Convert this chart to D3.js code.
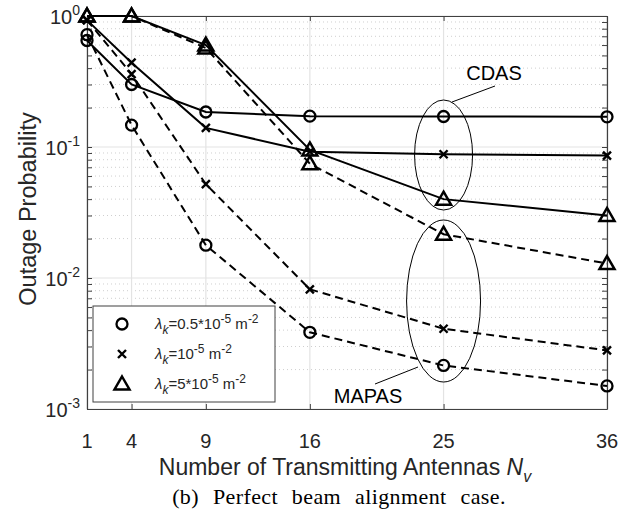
<!DOCTYPE html>
<html>
<head>
<meta charset="utf-8">
<script src="https://cdn.jsdelivr.net/npm/d3@7"></script>
<style>
body { margin: 0; background: #fff; }
text { font-family: "Liberation Sans", Arial, sans-serif; fill: #262626; }
</style>
</head>
<body>
<script>
// number of transmitting antennas N_v
var antennas = [1, 4, 9, 16, 25, 36];

// CDAS (solid lines)
var cdasLow  = [0.65, 0.30, 0.185, 0.172, 0.171, 0.170];
var cdasMid  = [0.93, 0.44, 0.14, 0.092, 0.088, 0.086];
var cdasHigh = [1.0, 1.0, 0.60, 0.095, 0.040, 0.030];

// MAPAS (dashed lines)
var mapasLow  = [0.72, 0.147, 0.0178, 0.00385, 0.00215, 0.0015];
var mapasMid  = [0.93, 0.36, 0.052, 0.0082, 0.0041, 0.0028];
var mapasHigh = [1.0, 1.0, 0.57, 0.0745, 0.0216, 0.0129];

var yDecades = [-3, -2, -1, 0];

var W = 631, H = 510;
var svg = d3.select("body").append("svg")
    .attr("width", W)
    .attr("height", H);

var x = d3.scaleLinear().domain([1, 36]).range([87, 607]);
var y = d3.scaleLog().domain([1e-3, 1]).range([409, 16]);

// minor grid (dotted)
var minor = [];
yDecades.slice(0, 3).forEach(function(e) {
  for (var m = 2; m <= 9; m++) minor.push(m * Math.pow(10, e));
});
svg.append("g").selectAll("line").data(minor).enter().append("line")
    .attr("x1", x(1)).attr("x2", x(36))
    .attr("y1", function(d) { return y(d); })
    .attr("y2", function(d) { return y(d); })
    .style("stroke", "#cfcfcf")
    .style("stroke-width", 1)
    .style("stroke-dasharray", "1,3");

// major grid
svg.append("g").selectAll("line").data(yDecades).enter().append("line")
    .attr("x1", x(1)).attr("x2", x(36))
    .attr("y1", function(d) { return y(Math.pow(10, d)); })
    .attr("y2", function(d) { return y(Math.pow(10, d)); })
    .style("stroke", "#e3e3e3").style("stroke-width", 1.2);
svg.append("g").selectAll("line").data(antennas).enter().append("line")
    .attr("y1", y(1e-3)).attr("y2", y(1))
    .attr("x1", function(d) { return x(d); })
    .attr("x2", function(d) { return x(d); })
    .style("stroke", "#e3e3e3").style("stroke-width", 1.2);

// axes with inward ticks
var tickVals = minor.concat(yDecades.map(function(e) { return Math.pow(10, e); }));
function styleAxis(g) {
  g.select(".domain").style("stroke", "#404040").style("stroke-width", 1.2);
  g.selectAll(".tick line").style("stroke", "#404040");
  g.selectAll("text").remove();
}
svg.append("g").attr("transform", "translate(" + x(1) + ",0)")
    .call(d3.axisLeft(y).tickValues(tickVals).tickSizeInner(-5).tickSizeOuter(0))
    .call(styleAxis);
svg.append("g").attr("transform", "translate(" + x(36) + ",0)")
    .call(d3.axisRight(y).tickValues(tickVals).tickSizeInner(-5).tickSizeOuter(0))
    .call(styleAxis);
svg.append("g").attr("transform", "translate(0," + y(1e-3) + ")")
    .call(d3.axisBottom(x).tickValues(antennas).tickSizeInner(-5).tickSizeOuter(0))
    .call(styleAxis);
svg.append("g").attr("transform", "translate(0," + y(1) + ")")
    .call(d3.axisTop(x).tickValues(antennas).tickSizeInner(-5).tickSizeOuter(0))
    .call(styleAxis);

// y tick labels 10^e
var yl = svg.append("g").selectAll("text").data(yDecades).enter().append("text")
    .attr("x", 80)
    .attr("y", function(d) { return y(Math.pow(10, d)) + 8; })
    .attr("text-anchor", "end")
    .style("font-size", "20px");
yl.append("tspan").text("10");
yl.append("tspan").attr("dy", -9).style("font-size", "14px").text(function(d) { return d; });

// x tick labels
svg.append("g").selectAll("text").data(antennas).enter().append("text")
    .attr("x", function(d) { return x(d); })
    .attr("y", 448)
    .attr("text-anchor", "middle")
    .style("font-size", "20px")
    .text(function(d) { return d; });

// axis titles
var xt = svg.append("text").attr("x", 345).attr("y", 475)
    .attr("text-anchor", "middle").style("font-size", "23px");
xt.append("tspan").text("Number of Transmitting Antennas ");
xt.append("tspan").style("font-style", "italic").text("N");
xt.append("tspan").attr("dy", 7).style("font-style", "italic").style("font-size", "16px").text("v");

svg.append("text")
    .attr("transform", "translate(36," + 209 + ") rotate(-90)")
    .attr("text-anchor", "middle")
    .style("font-size", "23.5px")
    .text("Outage Probability");

svg.append("text").attr("x", 339).attr("y", 504)
    .attr("text-anchor", "middle")
    .style("font-family", "'Liberation Serif', 'Times New Roman', serif")
    .style("font-size", "22px")
    .style("letter-spacing", "0.4px")
    .style("word-spacing", "8px")
    .style("fill", "#000")
    .text("(b) Perfect beam alignment case.");

// markers
function drawMarker(g, type, cx, cy) {
  if (type === "circle") {
    g.append("circle").attr("cx", cx).attr("cy", cy).attr("r", 5.5)
      .style("fill", "none").style("stroke", "#000").style("stroke-width", 2.3);
  } else if (type === "cross") {
    g.append("path")
      .attr("d", "M" + (cx - 4) + "," + (cy - 4) + "L" + (cx + 4) + "," + (cy + 4) +
                 "M" + (cx - 4) + "," + (cy + 4) + "L" + (cx + 4) + "," + (cy - 4))
      .style("stroke", "#000").style("stroke-width", 2.4);
  } else {
    g.append("path")
      .attr("d", "M" + cx + "," + (cy - 7.5) + "L" + (cx + 7.5) + "," + (cy + 5.5) +
                 "L" + (cx - 7.5) + "," + (cy + 5.5) + "Z")
      .style("fill", "none").style("stroke", "#000").style("stroke-width", 2.5)
      .style("stroke-linejoin", "miter");
  }
}

var series = [
  { vals: cdasLow, marker: "circle", dash: null },
  { vals: cdasMid, marker: "cross", dash: null },
  { vals: cdasHigh, marker: "triangle", dash: null },
  { vals: mapasLow, marker: "circle", dash: "8,5" },
  { vals: mapasMid, marker: "cross", dash: "8,5" },
  { vals: mapasHigh, marker: "triangle", dash: "8,5" }
];

var line = d3.line()
    .x(function(d, i) { return x(antennas[i]); })
    .y(function(d) { return y(d); });

series.forEach(function(s) {
  var g = svg.append("g");
  g.append("path").datum(s.vals)
    .attr("d", line)
    .style("fill", "none")
    .style("stroke", "#000")
    .style("stroke-width", 2)
    .style("stroke-dasharray", s.dash);
  s.vals.forEach(function(v, i) {
    drawMarker(g, s.marker, x(antennas[i]), y(v));
  });
});

// annotations
svg.append("ellipse").attr("cx", x(25)).attr("cy", 155).attr("rx", 29).attr("ry", 55)
    .style("fill", "none").style("stroke", "#000").style("stroke-width", 1);
svg.append("line").attr("x1", 495).attr("y1", 86).attr("x2", 452).attr("y2", 102)
    .style("stroke", "#000").style("stroke-width", 1);
svg.append("text").attr("x", 494).attr("y", 80).attr("text-anchor", "middle")
    .style("font-size", "20px").style("fill", "#000").text("CDAS");

svg.append("ellipse").attr("cx", x(25)).attr("cy", 301).attr("rx", 37).attr("ry", 81)
    .style("fill", "none").style("stroke", "#000").style("stroke-width", 1);
svg.append("line").attr("x1", 375).attr("y1", 384).attr("x2", 418).attr("y2", 367)
    .style("stroke", "#000").style("stroke-width", 1);
svg.append("text").attr("x", 368).attr("y", 403).attr("text-anchor", "middle")
    .style("font-size", "20px").style("fill", "#000").text("MAPAS");

// legend
var legendMarkers = ["circle", "cross", "triangle"];
var legendCoef = ["0.5*10", "10", "5*10"];
var lg = svg.append("g");
lg.append("rect").attr("x", 93).attr("y", 306).attr("width", 182).attr("height", 96)
    .style("fill", "#fff").style("stroke", "#404040").style("stroke-width", 1);
legendMarkers.forEach(function(m, i) {
  var cy = 324 + i * 30;
  drawMarker(lg, m, 122, cy);
  var t = lg.append("text").attr("x", 155).attr("y", cy + 5).style("font-size", "15px");
  t.append("tspan").style("font-style", "italic").text("\u03BB");
  t.append("tspan").attr("dy", 5).style("font-style", "italic").style("font-size", "12px").text("k");
  t.append("tspan").attr("dy", -5).text("=" + legendCoef[i]);
  t.append("tspan").attr("dy", -6).style("font-size", "12px").text("-5");
  t.append("tspan").attr("dy", 6).text(" m");
  t.append("tspan").attr("dy", -6).style("font-size", "12px").text("-2");
});
</script>
</body>
</html>
